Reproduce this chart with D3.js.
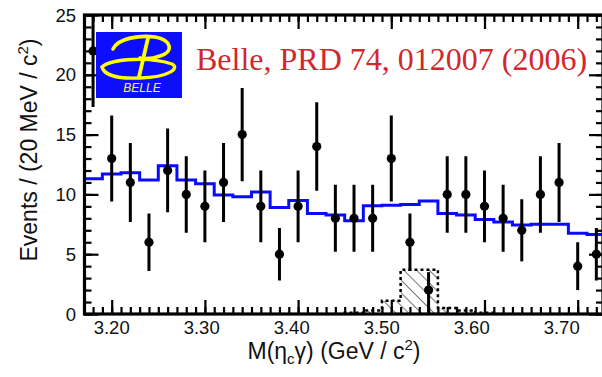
<!DOCTYPE html>
<html>
<head>
<meta charset="utf-8">
<script src="https://cdn.jsdelivr.net/npm/d3@7/dist/d3.min.js"></script>
<style>
  body { margin: 0; background: #fff; }
  svg { display: block; }
</style>
</head>
<body>
<div id="chart"></div>
<script>
// bin centres, 20 MeV wide
const massBins = [3.18, 3.20, 3.22, 3.24, 3.26, 3.28, 3.30, 3.32, 3.34, 3.36,
  3.38, 3.40, 3.42, 3.44, 3.46, 3.48, 3.50, 3.52, 3.54, 3.56,
  3.58, 3.60, 3.62, 3.64, 3.66, 3.68, 3.70, 3.72];
const events = [22, 13, 11, 6, 12, 10, 9, 11, 15, 9,
  5, 9, 14, 8, 8, 8, 13, 6, 2, 10,
  10, 9, 8, 7, 10, 11, 4, 5];
const errUp = [4.7, 3.6, 3.3, 2.4, 3.5, 3.2, 3.0, 3.3, 3.9, 3.0,
  2.2, 3.0, 3.7, 2.8, 2.8, 2.8, 3.6, 2.4, 1.5, 3.2,
  3.2, 3.0, 2.8, 2.6, 3.2, 3.3, 2.0, 2.2];
const errDown = [4.7, 3.6, 3.3, 2.4, 3.5, 3.2, 3.0, 3.3, 3.9, 3.0,
  2.2, 3.0, 3.7, 2.8, 2.8, 2.8, 3.6, 2.4, 1.9, 3.2,
  3.2, 3.0, 2.8, 2.6, 3.2, 3.3, 2.0, 2.2];
// fitted background (blue)
const background = [11.3, 11.7, 11.8, 11.2, 12.4, 11.2, 10.9, 9.95, 9.8, 10.2,
  8.9, 9.5, 8.4, 8.27, 7.8, 9.05, 9.1, 9.15, 9.45, 8.4,
  8.27, 7.9, 7.7, 7.44, 7.5, 7.5, 6.75, 6.65];
// expected signal shape (hatched)
const signalBins = [3.46, 3.48, 3.50, 3.52, 3.54, 3.56, 3.58, 3.60];
const signal = [0.1, 0.3, 1.1, 3.7, 3.7, 0.5, 0.3, 0.1];

const xTickLabels = ["3.20", "3.30", "3.40", "3.50", "3.60", "3.70"];
const yTickLabels = [0, 5, 10, 15, 20, 25];
const binWidth = 0.02;

const width = 602, height = 377;
const plot = { left: 84.5, right: 603, top: 15, bottom: 314 };
const sans = "'Liberation Sans', Arial, sans-serif";

const svg = d3.select("#chart")
  .append("svg")
  .attr("width", width)
  .attr("height", height)
  .attr("viewBox", [0, 0, width, height].join(" "));

const x = d3.scaleLinear().domain([3.17082, 3.72715]).range([plot.left, plot.right]);
const y = d3.scaleLinear().domain([0, 25]).range([plot.bottom, plot.top]);

const defs = svg.append("defs");
defs.append("clipPath").attr("id", "clip")
  .append("rect")
  .attr("x", plot.left).attr("y", plot.top)
  .attr("width", plot.right - plot.left)
  .attr("height", plot.bottom - plot.top);

const hatch = defs.append("pattern")
  .attr("id", "hatch")
  .attr("patternUnits", "userSpaceOnUse")
  .attr("width", 9).attr("height", 9)
  .attr("patternTransform", "rotate(-45)");
hatch.append("line")
  .attr("x1", 4.5).attr("y1", 0).attr("x2", 4.5).attr("y2", 9)
  .attr("stroke", "#777").attr("stroke-width", 1);

const g = svg.append("g").attr("clip-path", "url(#clip)");

// step histogram helper
function stepPoints(centres, values, closed) {
  const pts = [];
  if (closed) pts.push([centres[0] - binWidth / 2, 0]);
  centres.forEach((c, i) => pts.push([c - binWidth / 2, values[i]]));
  const last = centres[centres.length - 1] + binWidth / 2;
  pts.push([last, values[values.length - 1]]);
  if (closed) pts.push([last, 0]);
  return pts;
}

const stepLine = d3.line()
  .x((d) => x(d[0]))
  .y((d) => y(d[1]))
  .curve(d3.curveStepAfter);

const stepArea = d3.area()
  .x((d) => x(d[0]))
  .y0(y(0))
  .y1((d) => y(d[1]))
  .curve(d3.curveStepAfter);

// background fit
g.append("path")
  .attr("d", stepLine(stepPoints(massBins, background, false)))
  .attr("fill", "none")
  .attr("stroke", "#0a0aff")
  .attr("stroke-width", 3);

// signal shape
const sigPts = stepPoints(signalBins, signal, true);
g.append("path")
  .attr("d", stepArea(sigPts))
  .attr("fill", "url(#hatch)");
g.append("path")
  .attr("d", stepLine(sigPts))
  .attr("fill", "none")
  .attr("stroke", "#000")
  .attr("stroke-width", 2.5)
  .attr("stroke-dasharray", "3,3");

// data points
g.append("g")
  .selectAll("line")
  .data(massBins)
  .join("line")
  .attr("x1", (d) => x(d))
  .attr("x2", (d) => x(d))
  .attr("y1", (d, i) => y(events[i] + errUp[i]))
  .attr("y2", (d, i) => y(events[i] - errDown[i]))
  .attr("stroke", "#000")
  .attr("stroke-width", 3);

g.append("g")
  .selectAll("circle")
  .data(massBins)
  .join("circle")
  .attr("cx", (d) => x(d))
  .attr("cy", (d, i) => y(events[i]))
  .attr("r", 4.6)
  .attr("fill", "#000");

// frame and ticks
const minorX = d3.range(318, 373).map((v) => v / 100);
const majorX = xTickLabels.map(Number);
const minorY = d3.range(0, 26);

function drawAxis(axis, transform) {
  const a = svg.append("g")
    .attr("transform", transform)
    .call(axis);
  a.select(".domain").remove();
  a.selectAll("line").attr("stroke", "#000").attr("stroke-width", 2.2);
  a.selectAll("text").remove();
  return a;
}

drawAxis(d3.axisBottom(x).tickValues(minorX).tickSize(-7), `translate(0,${plot.bottom})`);
drawAxis(d3.axisBottom(x).tickValues(majorX).tickSize(-14), `translate(0,${plot.bottom})`);
drawAxis(d3.axisTop(x).tickValues(minorX).tickSize(-7), `translate(0,${plot.top})`);
drawAxis(d3.axisTop(x).tickValues(majorX).tickSize(-14), `translate(0,${plot.top})`);
drawAxis(d3.axisLeft(y).tickValues(minorY).tickSize(-7), `translate(${plot.left},0)`);
drawAxis(d3.axisLeft(y).tickValues(yTickLabels).tickSize(-14), `translate(${plot.left},0)`);
drawAxis(d3.axisRight(y).tickValues(minorY).tickSize(-7), `translate(${plot.right},0)`);
drawAxis(d3.axisRight(y).tickValues(yTickLabels).tickSize(-14), `translate(${plot.right},0)`);

svg.append("rect")
  .attr("x", plot.left).attr("y", plot.top)
  .attr("width", plot.right - plot.left)
  .attr("height", plot.bottom - plot.top)
  .attr("fill", "none")
  .attr("stroke", "#000")
  .attr("stroke-width", 3.2);

// tick labels (ROOT places them slightly compressed)
const xLabelPos = d3.scaleLinear().domain([3.2, 3.7]).range([111.7, 561.7]);
svg.append("g")
  .selectAll("text")
  .data(xTickLabels)
  .join("text")
  .attr("x", (d) => xLabelPos(+d))
  .attr("y", 334)
  .attr("text-anchor", "middle")
  .attr("font-family", sans)
  .attr("font-size", 18.5)
  .attr("fill", "#111")
  .text((d) => d);

svg.append("g")
  .selectAll("text")
  .data(yTickLabels)
  .join("text")
  .attr("x", 76)
  .attr("y", (d) => y(d))
  .attr("dy", "0.36em")
  .attr("text-anchor", "end")
  .attr("font-family", sans)
  .attr("font-size", 18.5)
  .attr("fill", "#111")
  .text((d) => d);

// axis titles
const xTitle = svg.append("text")
  .attr("x", 334)
  .attr("y", 359)
  .attr("text-anchor", "middle")
  .attr("font-family", sans)
  .attr("font-size", 23)
  .attr("fill", "#111");
xTitle.append("tspan").text("M(η");
xTitle.append("tspan").attr("dy", 5).attr("font-size", 15).text("c");
xTitle.append("tspan").attr("dy", -5).text("γ) (GeV / c");
xTitle.append("tspan").attr("dy", -9).attr("font-size", 15).text("2");
xTitle.append("tspan").attr("dy", 9).text(")");

const yTitle = svg.append("text")
  .attr("transform", "translate(37,150) rotate(-90)")
  .attr("text-anchor", "middle")
  .attr("font-family", sans)
  .attr("font-size", 23)
  .attr("fill", "#111");
yTitle.append("tspan").text("Events / (20 MeV / c");
yTitle.append("tspan").attr("dy", -9).attr("font-size", 15).text("2");
yTitle.append("tspan").attr("dy", 9).text(")");

// Belle logo
const logo = svg.append("g").attr("transform", "translate(96,32)");
logo.append("rect")
  .attr("width", 86).attr("height", 66)
  .attr("fill", "#0d0dff");
const yellow = "#ffff00";
logo.append("path")
  .attr("d", "M17,17 C22,6 44,3 59,5 C76,8 78,20 64,24 C56,27 49,27 44,26")
  .attr("fill", "none").attr("stroke", yellow).attr("stroke-width", 3.6)
  .attr("stroke-linecap", "round");
logo.append("path")
  .attr("d", "M52,6 L43,45")
  .attr("fill", "none").attr("stroke", yellow).attr("stroke-width", 3.8)
  .attr("stroke-linecap", "round");
logo.append("path")
  .attr("d", "M6,35 C16,26 56,25 76,32 C84,36 74,45 44,46 C22,47 8,43 6,35 Z")
  .attr("fill", "none").attr("stroke", yellow).attr("stroke-width", 3.4);
logo.append("text")
  .attr("x", 46).attr("y", 60)
  .attr("text-anchor", "middle")
  .attr("font-family", sans)
  .attr("font-style", "italic")
  .attr("font-size", 12)
  .attr("fill", yellow)
  .text("BELLE");

// reference
svg.append("text")
  .attr("x", 196)
  .attr("y", 70)
  .attr("font-family", "'Liberation Serif', 'Times New Roman', serif")
  .attr("font-size", 32)
  .attr("fill", "#d0282e")
  .text("Belle, PRD 74, 012007 (2006)");
</script>
</body>
</html>
